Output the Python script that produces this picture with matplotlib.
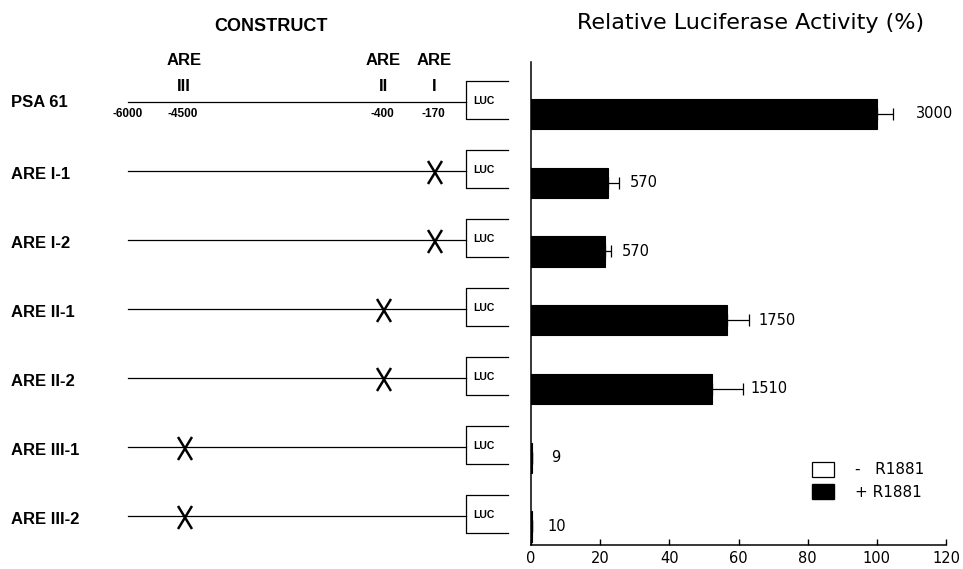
import numpy as np
import matplotlib.pyplot as plt
from matplotlib.patches import Patch

constructs = ['PSA 61', 'ARE I-1', 'ARE I-2', 'ARE II-1', 'ARE II-2', 'ARE III-1', 'ARE III-2']
activity = [100, 22.4, 21.4, 56.6, 52.4, 0.3, 0.33]   # % of PSA 61, + R1881
errors = [4.8, 3.1, 1.6, 6.4, 9.0, 0, 0]
value_labels = ['3000', '570', '570', '1750', '1510', '9', '10']
mutated_site = [None, 'I', 'I', 'II', 'II', 'III', 'III']
site_names = ['III', 'II', 'I']
site_coords = ['-4500', '-400', '-170']
xticks = [0, 20, 40, 60, 80, 100, 120]

bold = dict(family='Liberation Sans', fontweight='bold', color='black')

fig = plt.figure(figsize=(9.63, 5.69), dpi=100)

# ---- construct schematic (drawn in pixel coords) ----
dx = fig.add_axes([0, 0, 1, 1])
dx.set_xlim(0, 963)
dx.set_ylim(569, 0)
dx.axis('off')

site_x = {'III': 185, 'II': 384, 'I': 435}
line_x0, box_x0, box_x1 = 128, 466, 508
row_y0, row_step = 102, 69

dx.text(271, 26, 'CONSTRUCT', fontsize=13, ha='center', va='center', **bold)
for name, coord in zip(site_names, site_coords):
    x = site_x[name]
    dx.text(x - 1, 60, 'ARE', fontsize=12, ha='center', va='center', **bold)
    dx.text(x - 1, 86, name, fontsize=12, ha='center', va='center', **bold)
    dx.text(x - 2, 114, coord, fontsize=8.5, ha='center', va='center', **bold)
dx.text(line_x0, 114, '-6000', fontsize=8.5, ha='center', va='center', **bold)

for i, (name, site) in enumerate(zip(constructs, mutated_site)):
    y = row_y0 + i * row_step
    dx.text(11, y + (0 if i == 0 else 3), name, fontsize=12, ha='left', va='center', **bold)
    dx.plot([line_x0, box_x0], [y, y], color='black', lw=0.9)
    dx.plot([box_x1, box_x0, box_x0, box_x1], [y - 21, y - 21, y + 17, y + 17],
            color='black', lw=0.9)
    dx.text(473, y - 1, 'LUC', fontsize=7.5, ha='left', va='center', **bold)
    if site is not None:
        xs = site_x[site]
        dx.plot([xs - 7, xs + 7], [y - 10, y + 13], color='black', lw=1.8,
                solid_capstyle='butt')
        dx.plot([xs + 7, xs - 7], [y - 10, y + 13], color='black', lw=1.8,
                solid_capstyle='butt')

# ---- bar chart ----
ax = fig.add_axes([531 / 963, 24 / 569, 415 / 963, 483 / 569])
ax.patch.set_alpha(0)
pos = np.arange(len(constructs))
ax.barh(pos, activity, height=0.44, color='black', edgecolor='black', lw=0.8)
ax.errorbar(activity, pos, xerr=[np.zeros(len(errors)), errors], fmt='none',
            ecolor='black', elinewidth=0.9, capsize=4, capthick=0.9)

offsets = [16, 8, 8, 7, 5, 14, 11]
for i, (v, e, lab) in enumerate(zip(activity, errors, value_labels)):
    ax.annotate(lab, (v + e, i), xytext=(offsets[i], 0), textcoords='offset points',
                ha='left', va='center', fontsize=10.5, family='DejaVu Sans')

ax.set_xlim(0, 120)
ax.set_ylim(6.27, -0.756)
ax.set_xticks(xticks)
ax.set_xticklabels([str(t) for t in xticks], fontsize=10.5, family='DejaVu Sans')
ax.tick_params(axis='x', direction='in', length=4, width=1, pad=4)
ax.set_yticks([])
for s in ['top', 'right']:
    ax.spines[s].set_visible(False)
for s in ['left', 'bottom']:
    ax.spines[s].set_linewidth(1.1)
ax.set_title('Relative Luciferase Activity (%)', fontsize=16, family='DejaVu Sans',
             pad=24, x=0.528)

handles = [Patch(facecolor='white', edgecolor='black', lw=0.9),
           Patch(facecolor='black', edgecolor='black')]
ax.legend(handles, ['-   R1881', '+ R1881'], loc='upper left',
          bbox_to_anchor=(0.677, 0.172), frameon=False, borderpad=0, borderaxespad=0,
          handlelength=1.45, handleheight=1.1, handletextpad=1.4, labelspacing=0.45,
          prop={'family': 'DejaVu Sans', 'size': 11})

fig.savefig('out.png', dpi=100)
